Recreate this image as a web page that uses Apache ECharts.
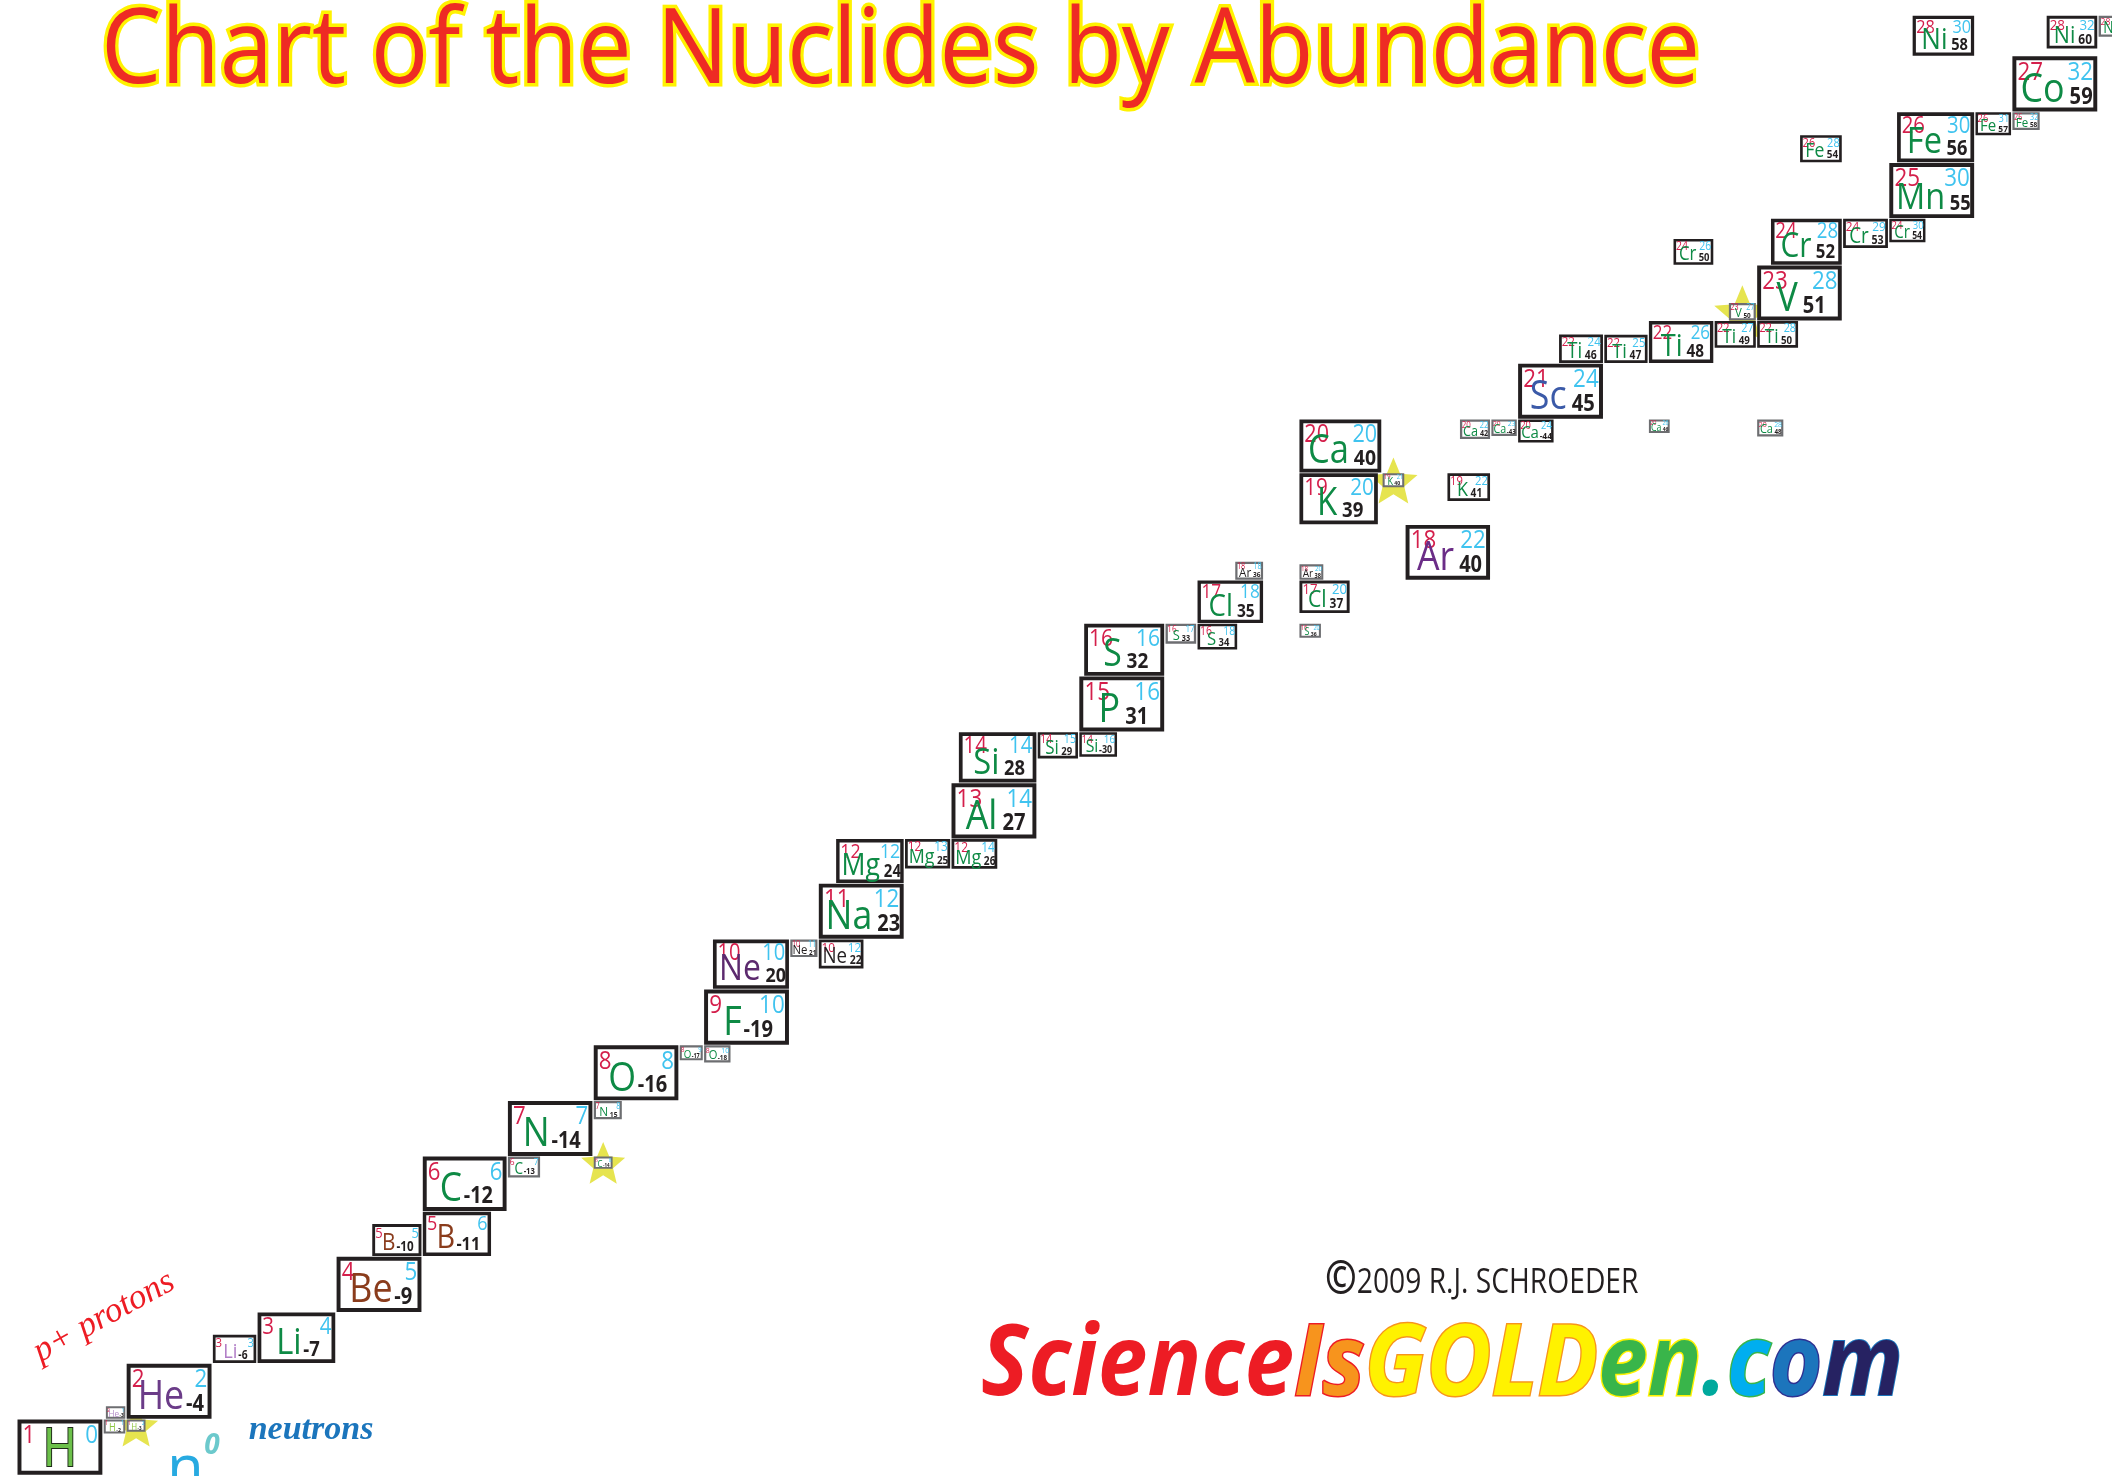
<!DOCTYPE html>
<html><head><meta charset="utf-8">
<script src="https://cdn.jsdelivr.net/npm/echarts@6/dist/echarts.min.js"></script>
<style>html,body{margin:0;padding:0;background:#fff}#chart{width:2112px;height:1476px}</style>
</head><body><div id="chart"></div>
<script>
// ---------------- DATA (stable / natural nuclides, Z = 1..28) ----------------
const symbols = ['H','H','H','He','He','Li','Li','Be','B','B','C','C','C','N','N','O','O','O','F',
  'Ne','Ne','Ne','Na','Mg','Mg','Mg','Al','Si','Si','Si','P','S','S','S','S','Cl','Cl','Ar','Ar','Ar',
  'K','K','K','Ca','Ca','Ca','Ca','Ca','Ca','Sc','Ti','Ti','Ti','Ti','Ti','V','V','Cr','Cr','Cr','Cr',
  'Mn','Fe','Fe','Fe','Fe','Co','Ni','Ni','Ni','Ni','Ni'];
const protons = [1,1,1,2,2,3,3,4,5,5,6,6,6,7,7,8,8,8,9,
  10,10,10,11,12,12,12,13,14,14,14,15,16,16,16,16,17,17,18,18,18,
  19,19,19,20,20,20,20,20,20,21,22,22,22,22,22,23,23,24,24,24,24,
  25,26,26,26,26,27,28,28,28,28,28];
const neutrons = [0,1,2,1,2,3,4,5,5,6,6,7,8,7,8,8,9,10,10,
  10,11,12,12,12,13,14,14,14,15,16,16,16,17,18,20,18,20,18,20,22,
  20,21,22,20,22,23,24,26,28,24,24,25,26,27,28,27,28,26,28,29,30,
  30,28,30,31,32,32,30,32,33,34,36];
// natural abundance, percent (trace cosmogenic = 0)
const abundance = [99.9885,0.0115,0,0.000134,99.999866,7.59,92.41,100,19.9,80.1,98.93,1.07,0,99.636,0.364,99.757,0.038,0.205,100,
  90.48,0.27,9.25,100,78.99,10.0,11.01,100,92.223,4.685,3.092,100,94.99,0.75,4.25,0.01,75.76,24.24,0.3365,0.0632,99.6003,
  93.2581,0.0117,6.7302,96.941,0.647,0.135,2.086,0.004,0.187,100,8.25,7.44,73.72,5.41,5.18,0.25,99.75,4.345,83.789,9.501,2.365,
  100,5.845,91.754,2.119,0.282,100,68.077,26.223,1.14,3.634,0.926];
const massLabels = ['','-2','-3','-3','-4','-6','-7','-9','-10','-11','-12','-13','-14','-14','15','-16','-17','-18','-19',
  '20','21','22','23','24','25','26','27','28','29','-30','31','32','33','34','36','35','37','36','38','40',
  '39','40','41','40','42','-43','-44','46','48','45','46','47','48','49','50','50','51','50','52','53','54',
  '55','54','56','57','58','59','58','60','61','62','64'];
const radioactive = [0,0,1,0,0,0,0,0,0,0,0,0,1,0,0,0,0,0,0,
  0,0,0,0,0,0,0,0,0,0,0,0,0,0,0,0,0,0,0,0,0,
  0,1,0,0,0,0,0,0,0,0,0,0,0,0,0,1,0,0,0,0,0,
  0,0,0,0,0,0,0,0,0,0,0];

// ---------------- STYLE ----------------
const FONT = '"Open Sans","Noto Sans",sans-serif';
const RED_Z = '#d41f4b', CYAN_N = '#3fc3ef', MASS = '#231f20';
const SYMBOL_COLOR = {H:'#6cc04a',He:'#6b3c88',Be:'#8a3c1c',B:'#8a3c1c',Ne:'#5c2a6e',Ar:'#6b2d87',Sc:'#3b5aa8'};
const SYMBOL_OVERRIDE = {'He-3':'#b48cc8','Li-6':'#b07cc6','Ne-21':'#231f20','Ne-22':'#231f20','Ar-36':'#231f20','Ar-38':'#231f20','H-2':'#8dc63f','H-3':'#8dc63f'};
const DEFAULT_SYMBOL = '#0e8a45';
const STAR = '#e6e44f';
const SX = 0.88; // condensed lettering inside boxes

// box size derived from abundance (layout units)
function boxWidth(pct){ const f = pct/100; return 14 + 49*Math.pow(f, 0.35)*(1 - 1.2*f*(1-f)); }
const ASPECT = 0.65, COL_GAP = 1, ROW_GAP = 0.5, EMPTY_COL = 25;

// ---------------- LAYOUT (table: column per N, row per Z) ----------------
const n = symbols.length;
const bw = abundance.map(boxWidth), bh = bw.map(w => w*ASPECT);
const maxN = Math.max(...neutrons), maxZ = Math.max(...protons);
const colW = [], colMaxZ = [], colLeft = [];
for (let N = 0; N <= maxN; N++) {
  let best = -1;
  for (let i = 0; i < n; i++) if (neutrons[i] === N && (best < 0 || bw[i] > bw[best])) best = i;
  colW[N] = best < 0 ? EMPTY_COL : bw[best];
  colMaxZ[N] = best < 0 ? 0 : protons[best];
}
let acc = 0;
for (let N = 0; N <= maxN; N++) { colLeft[N] = acc; acc += colW[N] + COL_GAP; }
const rowH = [], rowMaxN = [], rowBottom = [];
for (let Z = 1; Z <= maxZ; Z++) {
  let best = -1;
  for (let i = 0; i < n; i++) if (protons[i] === Z && (best < 0 || bh[i] > bh[best])) best = i;
  rowH[Z] = bh[best]; rowMaxN[Z] = neutrons[best];
}
acc = 0;
for (let Z = 1; Z <= maxZ; Z++) { rowBottom[Z] = acc; acc += rowH[Z] + ROW_GAP; }

const boxes = [], stars = [];
for (let i = 0; i < n; i++) {
  const N = neutrons[i], Z = protons[i], w = bw[i], h = bh[i];
  let x0 = colLeft[N];
  if (Z > colMaxZ[N]) x0 = colLeft[N] + colW[N] - w;   // above column's main box: right-aligned
  let y0 = rowBottom[Z];
  if (N > rowMaxN[Z]) y0 = rowBottom[Z] + rowH[Z] - h; // heavier than row's main isotope: top-aligned
  boxes.push([x0, y0, x0 + w, y0 + h, i]);
  if (radioactive[i]) stars.push([x0 + w/2, y0 + h/2, w, i]);
}

const mctx = document.createElement('canvas').getContext('2d');
function textWidth(t, font){ mctx.font = font; return mctx.measureText(t).width; }

function renderBox(params, api) {
  const i = api.value(4);
  const tl = api.coord([api.value(0), api.value(3)]);
  const br = api.coord([api.value(2), api.value(1)]);
  const x = tl[0], y = tl[1], w = br[0] - tl[0], h = br[1] - tl[1];
  const lw = 1.4 + 0.03*w;
  const key = symbols[i] + '-' + (protons[i] + neutrons[i]);
  const symColor = SYMBOL_OVERRIDE[key] || SYMBOL_COLOR[symbols[i]] || DEFAULT_SYMBOL;
  const sym = symbols[i], mass = massLabels[i];
  const fNum = 0.3*w;
  let fSym = mass ? 0.48*w : 0.62*w, fMass = 0.27*w;
  const numFont = fNum.toFixed(2) + 'px ' + FONT;
  let sw = textWidth(sym, fSym + 'px ' + FONT)*SX;
  let mw = mass ? textWidth(mass, 'bold ' + fMass + 'px ' + FONT)*SX : 0;
  let gap = mass ? (mass.charAt(0) === '-' ? 0.02 : 0.06)*w : 0;
  let total = sw + gap + mw;
  const maxTotal = 0.88*w;
  if (total > maxTotal) { const s = maxTotal/total; fSym *= s; fMass *= s; sw *= s; mw *= s; gap *= s; total = maxTotal; }
  const cx = x + (mass ? 0.52 : 0.5)*w;
  const base = y + (mass ? 0.9 : 0.95)*h;
  const left = cx - total/2;
  const children = [
    {type:'rect', shape:{x:x + lw/2, y:y + lw/2, width:w - lw, height:h - lw},
      style:{fill:'#fff', stroke: w >= 34 ? '#231f20' : '#6d6e71', lineWidth: lw}},
    {type:'text', x:x + 0.06*w, y:y + 0.29*h, scaleX:SX,
      style:{text:String(protons[i]), x:0, y:0, fill:RED_Z, font:numFont, align:'left', verticalAlign:'middle'}},
    {type:'text', x:x + w - 0.05*w, y:y + 0.29*h, scaleX:SX,
      style:{text:String(neutrons[i]), x:0, y:0, fill:CYAN_N, font:numFont, align:'right', verticalAlign:'middle'}},
    {type:'text', x:left, y:base - 0.39*fSym, scaleX:SX,
      style:{text:sym, x:0, y:0, fill:symColor, font:fSym.toFixed(2) + 'px ' + FONT, align:'left', verticalAlign:'middle',
        stroke: key === 'H-1' ? '#1f2a1a' : null, lineWidth: key === 'H-1' ? 2.2 : 0}}
  ];
  if (mass) children.push({type:'text', x:left + sw + gap, y:base - 0.39*fMass, scaleX:SX,
    style:{text:mass, x:0, y:0, fill:MASS, font:'bold ' + fMass.toFixed(2) + 'px ' + FONT, align:'left', verticalAlign:'middle'}});
  return {type:'group', children};
}

function renderStar(params, api) {
  const c = api.coord([api.value(0), api.value(1)]);
  const wpx = api.size([api.value(2), 0])[0];
  const R = 0.8*wpx + 8, r = 0.45*R;
  const pts = [];
  for (let k = 0; k < 10; k++) {
    const a = -Math.PI/2 + k*Math.PI/5, rr = k % 2 ? r : R;
    pts.push([c[0] + rr*Math.cos(a), c[1] + 0.12*wpx + rr*Math.sin(a)]);
  }
  return {type:'polygon', shape:{points:pts}, style:{fill:STAR}};
}

const chart = echarts.init(document.getElementById('chart'), null, {renderer:'canvas', width:2112, height:1476});
chart.setOption({
  backgroundColor:'#ffffff',
  animation:false,
  grid:{left:0, right:0, top:0, bottom:0},
  xAxis:{type:'value', min:-13, max:1555, show:false},
  yAxis:{type:'value', min:-1, max:1095, show:false},
  graphic:[
    {type:'text', x:101, y:53, scaleX:0.91, z:10, silent:true,
      style:{text:'Chart of the Nuclides by Abundance', x:0, y:0, font:'105px "Open Sans"', fill:'#ee2b24',
        stroke:'#fff200', lineWidth:7, strokeFirst:true, align:'left', verticalAlign:'middle'}},
    {type:'text', x:104, y:1317, rotation:0.5, z:10, silent:true,
      style:{text:'p+ protons', x:0, y:0, font:'italic 35px "Liberation Serif"', fill:'#ed1c24', align:'center', verticalAlign:'middle'}},
    {type:'text', x:311, y:1430, z:10, silent:true,
      style:{text:'neutrons', x:0, y:0, font:'italic bold 34px "Liberation Serif"', fill:'#1b75bc', align:'center', verticalAlign:'middle'}},
    {type:'text', x:167, y:1471, z:10, silent:true,
      style:{text:'n', x:0, y:0, font:'60px "Open Sans"', fill:'#27aae1', align:'left', verticalAlign:'middle'}},
    {type:'text', x:212, y:1446, z:10, silent:true,
      style:{text:'0', x:0, y:0, font:'italic bold 28px "Open Sans"', fill:'#6cc9cc', align:'center', verticalAlign:'middle'}},
    {type:'text', x:1325, y:1281, scaleX:0.83, z:10, silent:true,
      style:{text:'{c|©}{t|2009 R.J. SCHROEDER}', x:0, y:0, align:'left', verticalAlign:'middle',
        rich:{c:{font:'bold 46px "Open Sans"', fill:'#231f20', verticalAlign:'bottom'},
              t:{font:'34px "Open Sans"', fill:'#231f20', verticalAlign:'bottom', padding:[0,0,4,0]}}}},
    {type:'text', x:981, y:1367, scaleX:0.91, z:10, silent:true,
      style:{text:'{a|Science}{b|Is}{c|GOLD}{d|en}{e|.}{f|c}{g|o}{h|m}', x:0, y:0, align:'left', verticalAlign:'middle',
        rich:{
          a:{font:'italic bold 98px "Open Sans"', fill:'#ed1c24'},
          b:{font:'italic bold 98px "Open Sans"', fill:'#f7941d', stroke:'#ed1c24', lineWidth:3},
          c:{font:'italic bold 98px "Open Sans"', fill:'#fff200', stroke:'#f7941d', lineWidth:3},
          d:{font:'italic bold 98px "Open Sans"', fill:'#39b54a', stroke:'#fff200', lineWidth:3},
          e:{font:'italic bold 98px "Open Sans"', fill:'#00a99d'},
          f:{font:'italic bold 98px "Open Sans"', fill:'#00aeef', stroke:'#39b54a', lineWidth:3},
          g:{font:'italic bold 98px "Open Sans"', fill:'#1c75bc', stroke:'#2e3192', lineWidth:3},
          h:{font:'italic bold 98px "Open Sans"', fill:'#262262', stroke:'#1c75bc', lineWidth:2}
        }}}
  ],
  series:[
    {type:'custom', name:'radioactive', data:stars, renderItem:renderStar, z:1, silent:true, clip:true, encode:{x:0, y:1}},
    {type:'custom', name:'nuclides', data:boxes, renderItem:renderBox, z:2, silent:true, clip:true, encode:{x:[0,2], y:[1,3]}}
  ]
});
</script></body></html>
